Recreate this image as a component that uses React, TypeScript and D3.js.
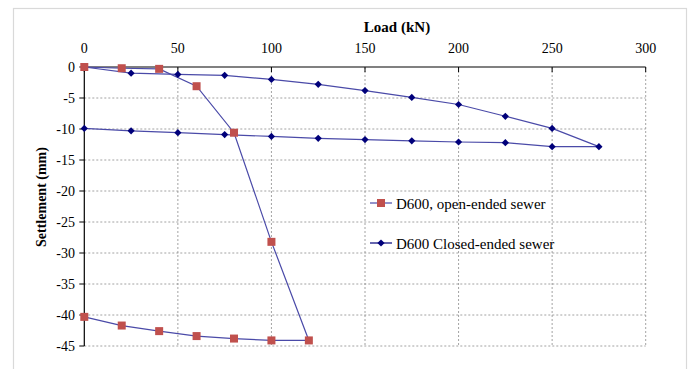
import React from "react";
import * as d3 from "d3";

const openLoad = [0, 20, 40, 60, 80, 100, 120, 100, 80, 60, 40, 20, 0];
const openSettle = [0, -0.2, -0.3, -3.1, -10.6, -28.2, -44.1, -44.1, -43.8, -43.4, -42.6, -41.7, -40.3];

const closedLoad = [0, 25, 50, 75, 100, 125, 150, 175, 200, 225, 250, 275, 250, 225, 200, 175, 150, 125, 100, 75, 50, 25, 0];
const closedSettle = [0, -1.0, -1.2, -1.35, -2.0, -2.8, -3.8, -4.9, -6.05, -7.95, -9.9, -12.85, -12.85, -12.2, -12.1, -11.9, -11.7, -11.5, -11.2, -10.9, -10.6, -10.3, -9.9];

const xTicks = [0, 50, 100, 150, 200, 250, 300];
const yTicks = [0, -5, -10, -15, -20, -25, -30, -35, -40, -45];

const seriesNames = ["D600, open-ended sewer", "D600 Closed-ended sewer"];

export default function App() {
  const W = 693, H = 369;
  const x = d3.scaleLinear().domain([0, 300]).range([84.3, 645.7]);
  const y = d3.scaleLinear().domain([0, -45]).range([67, 346]);
  const font = "'Liberation Serif', 'Times New Roman', serif";
  const lineColor = "#4a4aa8";
  const redFill = "#c0504d";
  const navy = "#00007a";

  const openPts: [number, number][] = openLoad.map((d, i) => [d, openSettle[i]]);
  const closedPts: [number, number][] = closedLoad.map((d, i) => [d, closedSettle[i]]);
  const line = d3.line<[number, number]>().x((d) => x(d[0])).y((d) => y(d[1]));

  const diamond = (cx: number, cy: number, r = 3.6) =>
    `M${cx},${cy - r}L${cx + r},${cy}L${cx},${cy + r}L${cx - r},${cy}Z`;

  return (
    <svg width={W} height={H} style={{ position: "absolute", left: 0, top: 0, background: "#fff" }}>
      <rect x={13.5} y={8.5} width={673} height={370} fill="#fff" stroke="#d9d9d9" strokeWidth={1.2} />
      {xTicks.filter((t) => t > 0).map((t) => (
        <line key={"gx" + t} x1={x(t)} x2={x(t)} y1={y(0)} y2={y(-45)} stroke="#8c8c8c" strokeWidth={0.8} strokeDasharray="2,2" />
      ))}
      {yTicks.filter((t) => t < 0).map((t) => (
        <line key={"gy" + t} x1={x(0)} x2={x(300)} y1={y(t)} y2={y(t)} stroke="#8c8c8c" strokeWidth={0.8} strokeDasharray="2,2" />
      ))}
      <line x1={x(0)} x2={x(300)} y1={y(0)} y2={y(0)} stroke="#808080" strokeWidth={2} />
      {xTicks.map((t) => (
        <g key={"xt" + t}>
          <line x1={x(t)} x2={x(t)} y1={y(0)} y2={y(0) + 5} stroke="#000" strokeWidth={1} />
          <text x={x(t)} y={53} textAnchor="middle" fontFamily={font} fontSize={14} fill="#000">{t}</text>
        </g>
      ))}
      <line x1={x(0)} x2={x(0)} y1={y(0)} y2={y(-45)} stroke="#000" strokeWidth={1.2} />
      {yTicks.map((t) => (
        <g key={"yt" + t}>
          <line x1={x(0) - 5} x2={x(0)} y1={y(t)} y2={y(t)} stroke="#000" strokeWidth={1} />
          <text x={75} y={y(t) + 5} textAnchor="end" fontFamily={font} fontSize={14} fill="#000">{t}</text>
        </g>
      ))}
      <text x={397} y={32} textAnchor="middle" fontFamily={font} fontSize={15} fontWeight="bold" fill="#000">Load (kN)</text>
      <text transform={`translate(46,197) rotate(-90)`} textAnchor="middle" fontFamily={font} fontSize={14} fontWeight="bold" fill="#000">Settlement (mm)</text>
      <path d={line(closedPts) || ""} fill="none" stroke={lineColor} strokeWidth={1.2} />
      <path d={line(openPts) || ""} fill="none" stroke={lineColor} strokeWidth={1.2} />
      {closedPts.map((p, i) => (
        <path key={"cd" + i} d={diamond(x(p[0]), y(p[1]))} fill={navy} />
      ))}
      {openPts.map((p, i) => (
        <rect key={"os" + i} x={x(p[0]) - 4} y={y(p[1]) - 4} width={8} height={8} fill={redFill} />
      ))}
      <line x1={370} x2={392} y1={203} y2={203} stroke={lineColor} strokeWidth={1.2} />
      <rect x={377} y={199} width={8} height={8} fill={redFill} />
      <text x={396} y={208.5} fontFamily={font} fontSize={15} fill="#000">{seriesNames[0]}</text>
      <line x1={370} x2={392} y1={243} y2={243} stroke={navy} strokeWidth={1.2} />
      <path d={diamond(381, 243)} fill={navy} />
      <text x={396} y={248.5} fontFamily={font} fontSize={15} fill="#000">{seriesNames[1]}</text>
    </svg>
  );
}
